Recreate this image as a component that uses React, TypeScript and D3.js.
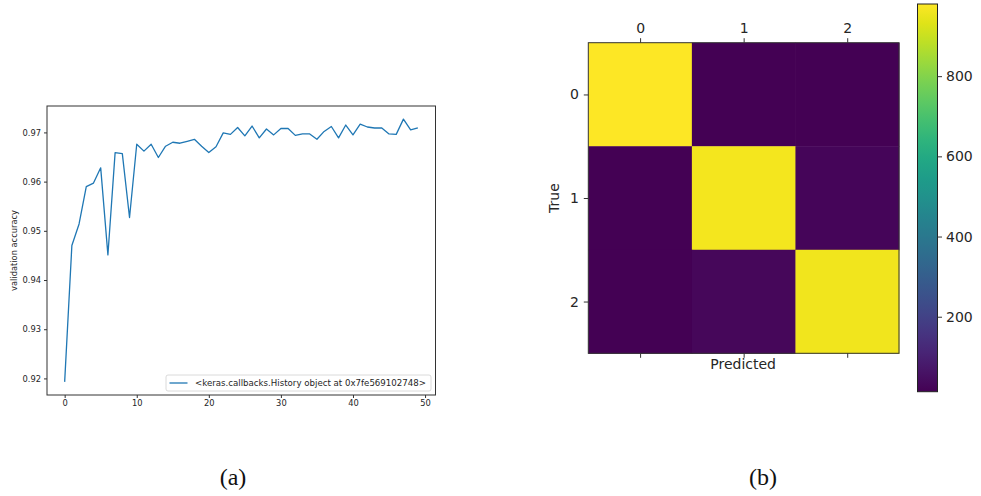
import React, { useEffect, useRef } from 'react';
import * as d3 from 'd3';

// validation accuracy per epoch
const epochs = d3.range(0, 50);
const valAcc = [
  0.9193, 0.9470, 0.9514, 0.9590, 0.9597, 0.9628, 0.9451, 0.9659, 0.9657, 0.9527,
  0.9676, 0.9662, 0.9676, 0.9649, 0.9672, 0.9680, 0.9678, 0.9682, 0.9686, 0.9672,
  0.9659, 0.9671, 0.9699, 0.9696, 0.9710, 0.9693, 0.9713, 0.9689, 0.9707, 0.9695,
  0.9708, 0.9708, 0.9694, 0.9697, 0.9697, 0.9686, 0.9702, 0.9712, 0.9689, 0.9715,
  0.9695, 0.9717, 0.9711, 0.9709, 0.9709, 0.9697, 0.9696, 0.9727, 0.9705, 0.9709,
];
const xTicks = [0, 10, 20, 30, 40, 50];
const yTicks = [0.92, 0.93, 0.94, 0.95, 0.96, 0.97];
const legendLabel = '<keras.callbacks.History object at 0x7fe569102748>';

// confusion matrix (panel b)
const classes = ['0', '1', '2'];
const confusion = [
  [980, 13, 15],
  [14, 964, 27],
  [15, 30, 961],
];
const cbarTicks = [200, 400, 600, 800];

const W = 981;
const H = 496;
const txt = '#262626';
const FONT = '"DejaVu Sans", sans-serif';

const App = () => {
  const svgRef = useRef<SVGSVGElement | null>(null);

  useEffect(() => {
    document.body.style.margin = '0';
    const svg = d3.select(svgRef.current);
    svg.selectAll('*').remove();
    svg.attr('width', W).attr('height', H).style('background', 'white');

    // d3 axes put their own font attrs on the group, so override them
    const styleAxis = (ax: any, size: number) => {
      ax.attr('font-family', FONT).attr('font-size', size);
      ax.select('.domain').remove();
      ax.selectAll('line').attr('stroke', '#333');
      ax.selectAll('text').attr('fill', txt);
    };

    // ---------- panel (a): line chart ----------
    const left = { x0: 47, x1: 435.5, y0: 106, y1: 395 };
    const xPad = (49 - 0) * 0.05;
    const x = d3.scaleLinear().domain([0 - xPad, 49 + xPad]).range([left.x0, left.x1]);
    const yMin = d3.min(valAcc)!;
    const yMax = d3.max(valAcc)!;
    const yPad = (yMax - yMin) * 0.05;
    const y = d3.scaleLinear().domain([yMin - yPad, yMax + yPad]).range([left.y1, left.y0]);

    const gA = svg.append('g').attr('font-family', FONT);

    gA.append('path')
      .datum(epochs)
      .attr('fill', 'none')
      .attr('stroke', '#1f77b4')
      .attr('stroke-width', 1.3)
      .attr('stroke-linejoin', 'round')
      .attr('d', d3.line<number>().x(i => x(i)).y(i => y(valAcc[i])));

    const xAxis = gA.append('g')
      .attr('transform', `translate(0,${left.y1})`)
      .call(d3.axisBottom(x).tickValues(xTicks).tickSize(3).tickPadding(2).tickFormat(d3.format('d')));
    styleAxis(xAxis, 8.3);

    const yAxis = gA.append('g')
      .attr('transform', `translate(${left.x0},0)`)
      .call(d3.axisLeft(y).tickValues(yTicks).tickSize(3).tickPadding(3).tickFormat(d3.format('.2f')));
    styleAxis(yAxis, 8.3);

    gA.append('rect')
      .attr('x', left.x0).attr('y', left.y0)
      .attr('width', left.x1 - left.x0).attr('height', left.y1 - left.y0)
      .attr('fill', 'none').attr('stroke', '#333').attr('stroke-width', 1);

    gA.append('text')
      .attr('transform', `translate(14,${(left.y0 + left.y1) / 2}) rotate(-90)`)
      .attr('text-anchor', 'middle')
      .attr('dominant-baseline', 'central')
      .attr('fill', txt)
      .attr('font-size', 8.3)
      .text('validation accuracy');

    // legend
    const leg = gA.append('g').attr('transform', 'translate(166,375)');
    leg.append('rect')
      .attr('width', 265).attr('height', 16).attr('rx', 2)
      .attr('fill', 'white').attr('stroke', '#d0d0d0').attr('stroke-width', 0.8);
    leg.append('line')
      .attr('x1', 3.5).attr('x2', 21.5).attr('y1', 8).attr('y2', 8)
      .attr('stroke', '#1f77b4').attr('stroke-width', 1.3);
    leg.append('text')
      .attr('x', 29).attr('y', 8)
      .attr('dominant-baseline', 'central')
      .attr('fill', txt)
      .attr('font-size', 8.6)
      .attr('textLength', 231)
      .attr('lengthAdjust', 'spacingAndGlyphs')
      .text(legendLabel);

    // ---------- panel (b): confusion matrix ----------
    const hm = { x0: 588.3, x1: 899, y0: 42.7, y1: 353.3 };
    const cx = d3.scaleBand().domain(classes).range([hm.x0, hm.x1]);
    const cy = d3.scaleBand().domain(classes).range([hm.y0, hm.y1]);
    const flat = confusion.flat();
    const vmin = d3.min(flat)!;
    const vmax = d3.max(flat)!;
    const color = d3.scaleSequential(d3.interpolateViridis).domain([vmin, vmax]);

    const gB = svg.append('g').attr('font-family', FONT);
    const cells = confusion.flatMap((row, r) => row.map((v, c) => ({ r, c, v })));
    gB.selectAll('rect.cell')
      .data(cells)
      .enter()
      .append('rect')
      .attr('class', 'cell')
      .attr('x', d => cx(classes[d.c])!)
      .attr('y', d => cy(classes[d.r])!)
      .attr('width', cx.bandwidth() + 0.5)
      .attr('height', cy.bandwidth() + 0.5)
      .attr('fill', d => color(d.v));

    gB.append('rect')
      .attr('x', hm.x0).attr('y', hm.y0)
      .attr('width', hm.x1 - hm.x0).attr('height', hm.y1 - hm.y0)
      .attr('fill', 'none').attr('stroke', '#333').attr('stroke-width', 1);

    const cxPos = d3.scalePoint().domain(classes).range([
      cx('0')! + cx.bandwidth() / 2, cx('2')! + cx.bandwidth() / 2]);
    const cyPos = d3.scalePoint().domain(classes).range([
      cy('0')! + cy.bandwidth() / 2, cy('2')! + cy.bandwidth() / 2]);

    const topAx = gB.append('g')
      .attr('transform', `translate(0,${hm.y0})`)
      .call(d3.axisTop(cxPos).tickSize(4.5).tickPadding(5));
    styleAxis(topAx, 14);

    const botAx = gB.append('g')
      .attr('transform', `translate(0,${hm.y1})`)
      .call(d3.axisBottom(cxPos).tickSize(4.5).tickFormat(() => ''));
    styleAxis(botAx, 14);

    const leftAx = gB.append('g')
      .attr('transform', `translate(${hm.x0},0)`)
      .call(d3.axisLeft(cyPos).tickSize(4.5).tickPadding(5));
    styleAxis(leftAx, 14);

    gB.append('text')
      .attr('x', (hm.x0 + hm.x1) / 2 - 0.5).attr('y', 364)
      .attr('text-anchor', 'middle')
      .attr('dominant-baseline', 'central')
      .attr('fill', txt)
      .attr('font-size', 14)
      .text('Predicted');

    gB.append('text')
      .attr('transform', `translate(554,${(hm.y0 + hm.y1) / 2}) rotate(-90)`)
      .attr('text-anchor', 'middle')
      .attr('dominant-baseline', 'central')
      .attr('fill', txt)
      .attr('font-size', 14)
      .text('True');

    // colorbar
    const cb = { x0: 917.5, x1: 937.5, y0: 4, y1: 391.7 };
    const defs = svg.append('defs');
    const grad = defs.append('linearGradient')
      .attr('id', 'viridis-grad')
      .attr('x1', 0).attr('x2', 0).attr('y1', 1).attr('y2', 0);
    d3.range(0, 1.0001, 0.05).forEach(t => {
      grad.append('stop').attr('offset', t).attr('stop-color', d3.interpolateViridis(t));
    });
    gB.append('rect')
      .attr('x', cb.x0).attr('y', cb.y0)
      .attr('width', cb.x1 - cb.x0).attr('height', cb.y1 - cb.y0)
      .attr('fill', 'url(#viridis-grad)')
      .attr('stroke', '#222').attr('stroke-width', 1);

    const cbScale = d3.scaleLinear().domain([vmin, vmax]).range([cb.y1, cb.y0]);
    const cbAx = gB.append('g')
      .attr('transform', `translate(${cb.x1},0)`)
      .call(d3.axisRight(cbScale).tickValues(cbarTicks).tickSize(4.5).tickPadding(4));
    styleAxis(cbAx, 14);

    // captions
    const cap = svg.append('g')
      .attr('font-family', '"Liberation Serif", serif')
      .attr('font-size', 24)
      .attr('fill', '#111')
      .attr('text-anchor', 'middle');
    cap.append('text').attr('x', 233).attr('y', 485).text('(a)');
    cap.append('text').attr('x', 763).attr('y', 485).text('(b)');
  }, []);

  return <svg ref={svgRef} style={{ display: 'block' }}></svg>;
};

export default App;
